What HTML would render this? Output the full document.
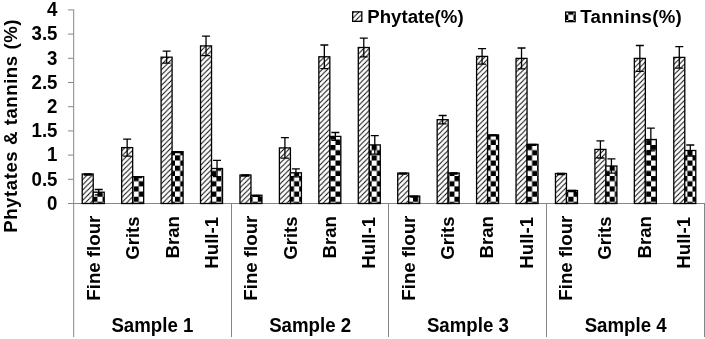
<!DOCTYPE html>
<html><head><meta charset="utf-8"><style>
html,body{margin:0;padding:0;background:#fff;}
body{width:705px;height:339px;overflow:hidden;}
svg{display:block;will-change:transform;}
text{font-family:"Liberation Sans",sans-serif;font-weight:bold;font-size:18.67px;fill:#000;}
</style></head><body>
<svg width="705" height="339" viewBox="0 0 705 339">
<defs>
<pattern id="hatch" patternUnits="userSpaceOnUse" x="3.5" y="0" width="5.175" height="5.175">
<rect width="5.175" height="5.175" fill="#fff"/>
<path d="M-1,1 L1,-1 M0,5.175 L5.175,0 M4.175,6.175 L6.175,4.175" stroke="#000" stroke-width="0.95"/>
</pattern>
<pattern id="check" patternUnits="userSpaceOnUse" x="9.4" y="0.1" width="10.35" height="10.35">
<rect width="10.35" height="10.35" fill="#fff"/>
<rect x="0" y="0" width="5.175" height="5.175" fill="#000"/>
<rect x="5.175" y="5.175" width="5.175" height="5.175" fill="#000"/>
</pattern>
<pattern id="checkL" patternUnits="userSpaceOnUse" x="9.4" y="-0.775" width="10.35" height="10.35">
<rect width="10.35" height="10.35" fill="#fff"/>
<rect x="0" y="0" width="5.175" height="5.175" fill="#000"/>
<rect x="5.175" y="5.175" width="5.175" height="5.175" fill="#000"/>
</pattern>
</defs>
<rect width="705" height="339" fill="#fff"/>

<path d="M73.7,9.4 V337 M68,203.5 H705" stroke="#868686" stroke-width="1" fill="none"/>
<path d="M68,203.50 H73.5M68,179.30 H73.5M68,155.10 H73.5M68,130.90 H73.5M68,106.70 H73.5M68,82.50 H73.5M68,58.30 H73.5M68,34.10 H73.5M68,9.90 H73.5" stroke="#868686" stroke-width="1" fill="none"/>
<path d="M231.5,203.5 V337" stroke="#868686" stroke-width="1"/>
<path d="M388.5,203.5 V337" stroke="#868686" stroke-width="1"/>
<path d="M546.5,203.5 V337" stroke="#868686" stroke-width="1"/>
<path d="M704.5,203.5 V337" stroke="#868686" stroke-width="1"/>
<text transform="translate(57.50,209.80) scale(1,1.04)" text-anchor="end">0</text>
<text transform="translate(57.50,185.60) scale(1,1.04)" text-anchor="end">0.5</text>
<text transform="translate(57.50,161.40) scale(1,1.04)" text-anchor="end">1</text>
<text transform="translate(57.50,137.20) scale(1,1.04)" text-anchor="end">1.5</text>
<text transform="translate(57.50,113.00) scale(1,1.04)" text-anchor="end">2</text>
<text transform="translate(57.50,88.80) scale(1,1.04)" text-anchor="end">2.5</text>
<text transform="translate(57.50,64.60) scale(1,1.04)" text-anchor="end">3</text>
<text transform="translate(57.50,40.40) scale(1,1.04)" text-anchor="end">3.5</text>
<text transform="translate(57.50,16.20) scale(1,1.04)" text-anchor="end">4</text>
<text transform="translate(17.00,232.80) rotate(-90)" letter-spacing="0.53">Phytates &amp; tannins (%)</text>
<rect x="82.22" y="174.00" width="11.00" height="29.50" fill="url(#hatch)" stroke="#000" stroke-width="1.3"/>
<rect x="93.22" y="192.20" width="11.00" height="11.30" fill="url(#check)" stroke="#000" stroke-width="1.3"/>
<rect x="121.66" y="147.60" width="11.00" height="55.90" fill="url(#hatch)" stroke="#000" stroke-width="1.3"/>
<rect x="132.66" y="176.70" width="11.00" height="26.80" fill="url(#check)" stroke="#000" stroke-width="1.3"/>
<rect x="161.09" y="57.20" width="11.00" height="146.30" fill="url(#hatch)" stroke="#000" stroke-width="1.3"/>
<rect x="172.09" y="151.70" width="11.00" height="51.80" fill="url(#check)" stroke="#000" stroke-width="1.3"/>
<rect x="200.53" y="45.90" width="11.00" height="157.60" fill="url(#hatch)" stroke="#000" stroke-width="1.3"/>
<rect x="211.53" y="168.50" width="11.00" height="35.00" fill="url(#check)" stroke="#000" stroke-width="1.3"/>
<rect x="239.97" y="175.00" width="11.00" height="28.50" fill="url(#hatch)" stroke="#000" stroke-width="1.3"/>
<rect x="250.97" y="195.30" width="11.00" height="8.20" fill="url(#check)" stroke="#000" stroke-width="1.3"/>
<rect x="279.41" y="147.90" width="11.00" height="55.60" fill="url(#hatch)" stroke="#000" stroke-width="1.3"/>
<rect x="290.41" y="172.80" width="11.00" height="30.70" fill="url(#check)" stroke="#000" stroke-width="1.3"/>
<rect x="318.84" y="56.80" width="11.00" height="146.70" fill="url(#hatch)" stroke="#000" stroke-width="1.3"/>
<rect x="329.84" y="136.40" width="11.00" height="67.10" fill="url(#check)" stroke="#000" stroke-width="1.3"/>
<rect x="358.28" y="47.50" width="11.00" height="156.00" fill="url(#hatch)" stroke="#000" stroke-width="1.3"/>
<rect x="369.28" y="144.90" width="11.00" height="58.60" fill="url(#check)" stroke="#000" stroke-width="1.3"/>
<rect x="397.72" y="173.10" width="11.00" height="30.40" fill="url(#hatch)" stroke="#000" stroke-width="1.3"/>
<rect x="408.72" y="196.10" width="11.00" height="7.40" fill="url(#check)" stroke="#000" stroke-width="1.3"/>
<rect x="437.16" y="119.70" width="11.00" height="83.80" fill="url(#hatch)" stroke="#000" stroke-width="1.3"/>
<rect x="448.16" y="173.00" width="11.00" height="30.50" fill="url(#check)" stroke="#000" stroke-width="1.3"/>
<rect x="476.59" y="56.40" width="11.00" height="147.10" fill="url(#hatch)" stroke="#000" stroke-width="1.3"/>
<rect x="487.59" y="134.90" width="11.00" height="68.60" fill="url(#check)" stroke="#000" stroke-width="1.3"/>
<rect x="516.03" y="58.40" width="11.00" height="145.10" fill="url(#hatch)" stroke="#000" stroke-width="1.3"/>
<rect x="527.03" y="144.40" width="11.00" height="59.10" fill="url(#check)" stroke="#000" stroke-width="1.3"/>
<rect x="555.47" y="173.50" width="11.00" height="30.00" fill="url(#hatch)" stroke="#000" stroke-width="1.3"/>
<rect x="566.47" y="190.50" width="11.00" height="13.00" fill="url(#check)" stroke="#000" stroke-width="1.3"/>
<rect x="594.91" y="149.40" width="11.00" height="54.10" fill="url(#hatch)" stroke="#000" stroke-width="1.3"/>
<rect x="605.91" y="166.00" width="11.00" height="37.50" fill="url(#check)" stroke="#000" stroke-width="1.3"/>
<rect x="634.34" y="58.40" width="11.00" height="145.10" fill="url(#hatch)" stroke="#000" stroke-width="1.3"/>
<rect x="645.34" y="139.50" width="11.00" height="64.00" fill="url(#check)" stroke="#000" stroke-width="1.3"/>
<rect x="673.78" y="57.40" width="11.00" height="146.10" fill="url(#hatch)" stroke="#000" stroke-width="1.3"/>
<rect x="684.78" y="150.50" width="11.00" height="53.00" fill="url(#check)" stroke="#000" stroke-width="1.3"/>
<path d="M87.72,174.00 V175.00 M83.72,174.00 H91.72 M83.72,175.00 H91.72" stroke="#000" stroke-width="1.3" fill="none"/>
<path d="M98.72,189.50 V194.90 M94.72,189.50 H102.72 M94.72,194.90 H102.72" stroke="#000" stroke-width="1.3" fill="none"/>
<path d="M127.16,139.10 V156.10 M123.16,139.10 H131.16 M123.16,156.10 H131.16" stroke="#000" stroke-width="1.3" fill="none"/>
<path d="M138.16,176.70 V177.70 M134.16,176.70 H142.16 M134.16,177.70 H142.16" stroke="#000" stroke-width="1.3" fill="none"/>
<path d="M166.59,51.20 V63.20 M162.59,51.20 H170.59 M162.59,63.20 H170.59" stroke="#000" stroke-width="1.3" fill="none"/>
<path d="M177.59,151.70 V152.70 M173.59,151.70 H181.59 M173.59,152.70 H181.59" stroke="#000" stroke-width="1.3" fill="none"/>
<path d="M206.03,36.20 V55.60 M202.03,36.20 H210.03 M202.03,55.60 H210.03" stroke="#000" stroke-width="1.3" fill="none"/>
<path d="M217.03,160.40 V176.60 M213.03,160.40 H221.03 M213.03,176.60 H221.03" stroke="#000" stroke-width="1.3" fill="none"/>
<path d="M245.47,175.00 V176.00 M241.47,175.00 H249.47 M241.47,176.00 H249.47" stroke="#000" stroke-width="1.3" fill="none"/>
<path d="M256.47,195.30 V196.30 M252.47,195.30 H260.47 M252.47,196.30 H260.47" stroke="#000" stroke-width="1.3" fill="none"/>
<path d="M284.91,137.60 V158.20 M280.91,137.60 H288.91 M280.91,158.20 H288.91" stroke="#000" stroke-width="1.3" fill="none"/>
<path d="M295.91,168.80 V176.80 M291.91,168.80 H299.91 M291.91,176.80 H299.91" stroke="#000" stroke-width="1.3" fill="none"/>
<path d="M324.34,45.00 V68.60 M320.34,45.00 H328.34 M320.34,68.60 H328.34" stroke="#000" stroke-width="1.3" fill="none"/>
<path d="M335.34,132.50 V140.30 M331.34,132.50 H339.34 M331.34,140.30 H339.34" stroke="#000" stroke-width="1.3" fill="none"/>
<path d="M363.78,38.20 V56.80 M359.78,38.20 H367.78 M359.78,56.80 H367.78" stroke="#000" stroke-width="1.3" fill="none"/>
<path d="M374.78,135.70 V154.10 M370.78,135.70 H378.78 M370.78,154.10 H378.78" stroke="#000" stroke-width="1.3" fill="none"/>
<path d="M403.22,173.10 V174.10 M399.22,173.10 H407.22 M399.22,174.10 H407.22" stroke="#000" stroke-width="1.3" fill="none"/>
<path d="M414.22,196.10 V197.10 M410.22,196.10 H418.22 M410.22,197.10 H418.22" stroke="#000" stroke-width="1.3" fill="none"/>
<path d="M442.66,115.50 V123.90 M438.66,115.50 H446.66 M438.66,123.90 H446.66" stroke="#000" stroke-width="1.3" fill="none"/>
<path d="M453.66,173.00 V174.00 M449.66,173.00 H457.66 M449.66,174.00 H457.66" stroke="#000" stroke-width="1.3" fill="none"/>
<path d="M482.09,48.70 V64.10 M478.09,48.70 H486.09 M478.09,64.10 H486.09" stroke="#000" stroke-width="1.3" fill="none"/>
<path d="M493.09,134.90 V135.90 M489.09,134.90 H497.09 M489.09,135.90 H497.09" stroke="#000" stroke-width="1.3" fill="none"/>
<path d="M521.53,48.00 V68.80 M517.53,48.00 H525.53 M517.53,68.80 H525.53" stroke="#000" stroke-width="1.3" fill="none"/>
<path d="M532.53,144.40 V145.40 M528.53,144.40 H536.53 M528.53,145.40 H536.53" stroke="#000" stroke-width="1.3" fill="none"/>
<path d="M560.97,173.50 V174.50 M556.97,173.50 H564.97 M556.97,174.50 H564.97" stroke="#000" stroke-width="1.3" fill="none"/>
<path d="M571.97,190.50 V191.50 M567.97,190.50 H575.97 M567.97,191.50 H575.97" stroke="#000" stroke-width="1.3" fill="none"/>
<path d="M600.41,140.80 V158.00 M596.41,140.80 H604.41 M596.41,158.00 H604.41" stroke="#000" stroke-width="1.3" fill="none"/>
<path d="M611.41,158.80 V173.20 M607.41,158.80 H615.41 M607.41,173.20 H615.41" stroke="#000" stroke-width="1.3" fill="none"/>
<path d="M639.84,45.50 V71.30 M635.84,45.50 H643.84 M635.84,71.30 H643.84" stroke="#000" stroke-width="1.3" fill="none"/>
<path d="M650.84,128.20 V150.80 M646.84,128.20 H654.84 M646.84,150.80 H654.84" stroke="#000" stroke-width="1.3" fill="none"/>
<path d="M679.28,46.60 V68.20 M675.28,46.60 H683.28 M675.28,68.20 H683.28" stroke="#000" stroke-width="1.3" fill="none"/>
<path d="M690.28,145.00 V156.00 M686.28,145.00 H694.28 M686.28,156.00 H694.28" stroke="#000" stroke-width="1.3" fill="none"/>
<text transform="translate(99.92,215.70) rotate(-90)" text-anchor="end">Fine flour</text>
<text transform="translate(139.25,216.30) rotate(-90)" text-anchor="end">Grits</text>
<text transform="translate(178.58,216.00) rotate(-90)" text-anchor="end">Bran</text>
<text transform="translate(217.91,216.90) rotate(-90)" text-anchor="end">Hull-1</text>
<text transform="translate(257.24,215.70) rotate(-90)" text-anchor="end">Fine flour</text>
<text transform="translate(296.57,216.30) rotate(-90)" text-anchor="end">Grits</text>
<text transform="translate(335.90,216.00) rotate(-90)" text-anchor="end">Bran</text>
<text transform="translate(375.23,216.90) rotate(-90)" text-anchor="end">Hull-1</text>
<text transform="translate(414.56,215.70) rotate(-90)" text-anchor="end">Fine flour</text>
<text transform="translate(453.89,216.30) rotate(-90)" text-anchor="end">Grits</text>
<text transform="translate(493.22,216.00) rotate(-90)" text-anchor="end">Bran</text>
<text transform="translate(532.55,216.90) rotate(-90)" text-anchor="end">Hull-1</text>
<text transform="translate(571.88,215.70) rotate(-90)" text-anchor="end">Fine flour</text>
<text transform="translate(611.22,216.30) rotate(-90)" text-anchor="end">Grits</text>
<text transform="translate(650.55,216.00) rotate(-90)" text-anchor="end">Bran</text>
<text transform="translate(689.88,216.90) rotate(-90)" text-anchor="end">Hull-1</text>
<text transform="translate(152.38,331.60) scale(1,1.04)" text-anchor="middle">Sample 1</text>
<text transform="translate(310.12,331.60) scale(1,1.04)" text-anchor="middle">Sample 2</text>
<text transform="translate(467.88,331.60) scale(1,1.04)" text-anchor="middle">Sample 3</text>
<text transform="translate(625.62,331.60) scale(1,1.04)" text-anchor="middle">Sample 4</text>
<rect x="352.65" y="11.85" width="9.15" height="9.5" fill="url(#hatch)" stroke="#000" stroke-width="1.3"/>
<text transform="translate(367.20,23.20)">Phytate(%)</text>
<rect x="565.65" y="12.05" width="9.5" height="9.6" fill="url(#checkL)" stroke="#000" stroke-width="1.3"/>
<text transform="translate(580.30,23.20)" letter-spacing="0.25">Tannins(%)</text>
</svg></body></html>
